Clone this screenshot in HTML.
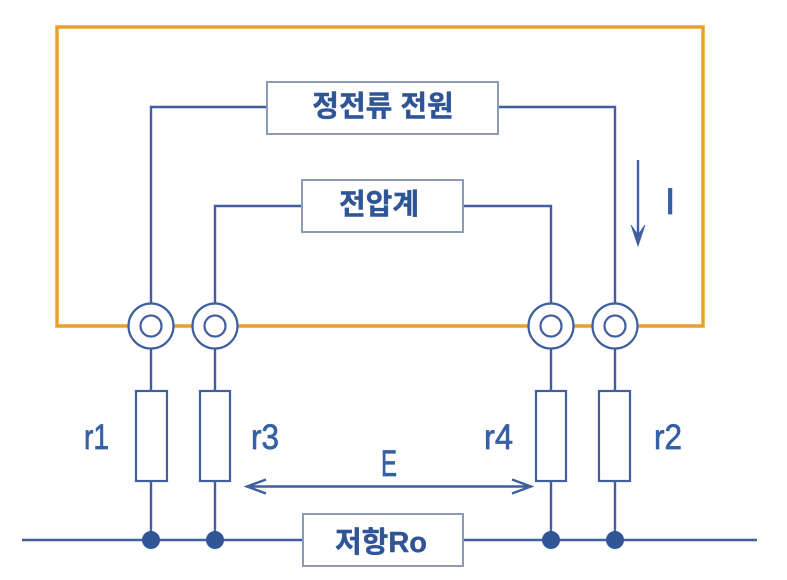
<!DOCTYPE html>
<html><head><meta charset="utf-8">
<style>html,body{margin:0;padding:0;background:#fff;width:787px;height:580px;overflow:hidden}svg{display:block}
text{font-family:"Liberation Sans","Noto Sans CJK KR",sans-serif;fill:#2f5597}
.k{font-weight:700;font-size:29px;text-anchor:middle;stroke:#2f5597;stroke-width:.4}
.l{font-size:35px;fill:#3560a5;stroke:#3560a5;stroke-width:.7}
</style></head><body>
<svg width="787" height="580" viewBox="0 0 787 580" xmlns="http://www.w3.org/2000/svg">
<rect x="57" y="27" width="646" height="299" fill="none" stroke="#e9a02c" stroke-width="3.5"/>
<g fill="none" stroke="#3f5f9e" stroke-width="2.4">
<path d="M151 304V107H267M498 107H615V304"/>
<path d="M215 304V206H302M463 206H551V304"/>
<path d="M151 349V391M215 349V391M551 349V391M615 349V391"/>
<path d="M151 481V540M215 481V540M551 481V540M615 481V540"/>
<path d="M22 540H303M463 540H757"/>
<path d="M638 160V243"/>
<path d="M247 486.5H531M266 479.5L247 486.5L266 493.5M512 479.5L531 486.5L512 493.5"/>
</g>
<path d="M631 225L638 235L645 225L638 246Z" fill="#3f5f9e" stroke="#3f5f9e" stroke-width=".8"/>
<g fill="#fff" stroke="#8a9bb5" stroke-width="2">
<rect x="267" y="82" width="231" height="52"/>
<rect x="302" y="180" width="161" height="52"/>
<rect x="303" y="514" width="160" height="52"/>
</g>
<g fill="#fff" stroke="#3f5f9e" stroke-width="2.2">
<rect x="136" y="391" width="31" height="90"/>
<rect x="200" y="391" width="30" height="90"/>
<rect x="536" y="391" width="30" height="90"/>
<rect x="599" y="391" width="31" height="90"/>
<circle cx="151" cy="326" r="22.5"/><circle cx="151" cy="326" r="10.5"/>
<circle cx="215" cy="326" r="22.5"/><circle cx="215" cy="326" r="10.5"/>
<circle cx="551" cy="326" r="22.5"/><circle cx="551" cy="326" r="10.5"/>
<circle cx="615" cy="326" r="22.5"/><circle cx="615" cy="326" r="10.5"/>
</g>
<g fill="#2f5597"><circle cx="151" cy="540" r="9"/><circle cx="215" cy="540" r="9"/><circle cx="551" cy="540" r="9"/><circle cx="615" cy="540" r="9"/></g>
<text class="k" x="383" y="116">정전류 전원</text>
<text class="k" x="379" y="214">전압계</text>
<text class="k" x="381" y="552">저항Ro</text>
<text class="l" x="84" y="449" textLength="25" lengthAdjust="spacingAndGlyphs">r1</text>
<text class="l" x="251" y="449" textLength="28" lengthAdjust="spacingAndGlyphs">r3</text>
<text class="l" x="484" y="449" textLength="29" lengthAdjust="spacingAndGlyphs">r4</text>
<text class="l" x="654" y="449" textLength="28" lengthAdjust="spacingAndGlyphs">r2</text>
<text class="l" x="381" y="476" textLength="16" lengthAdjust="spacingAndGlyphs" style="font-size:37px">E</text>
<text class="l" x="665" y="214" style="font-size:37px">I</text>
</svg>
</body></html>
